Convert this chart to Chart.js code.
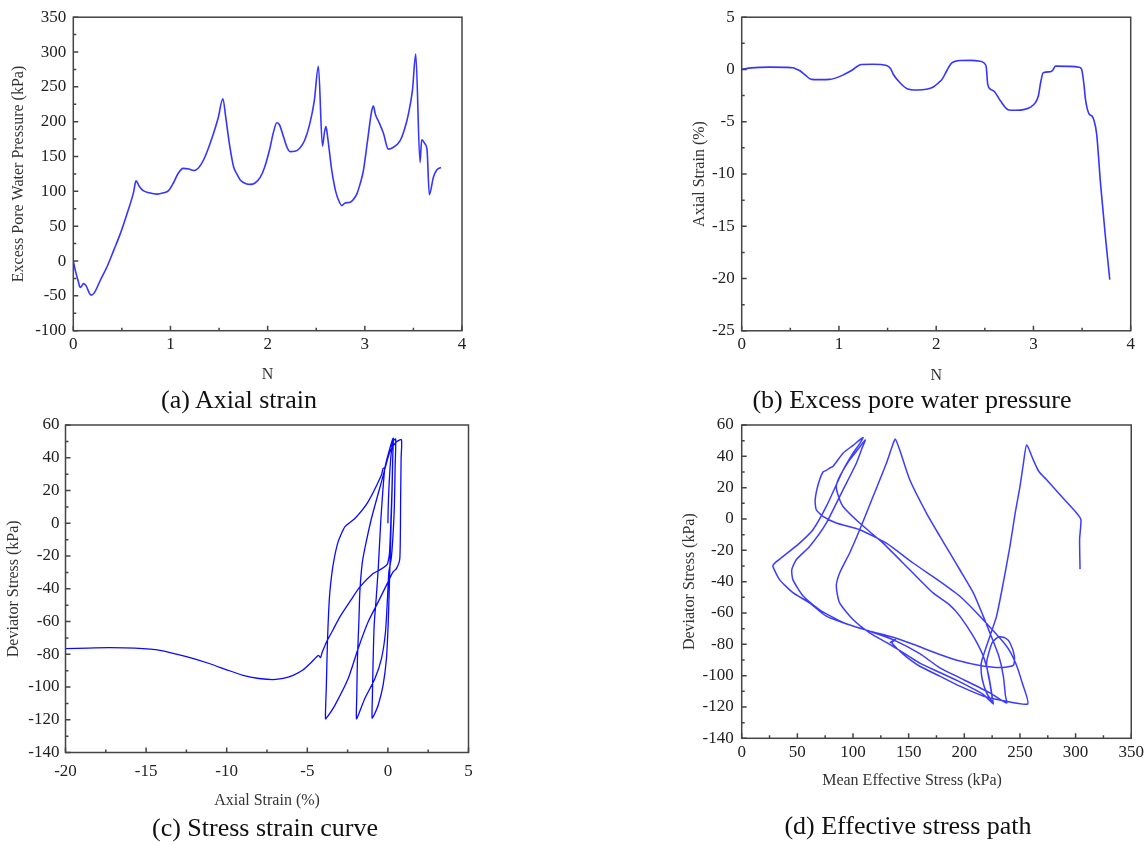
<!DOCTYPE html>
<html><head><meta charset="utf-8">
<script src="https://cdn.jsdelivr.net/npm/chart.js@4"></script>
<style>
html,body{margin:0;padding:0;background:#fff;}
#wrap{position:relative;width:1148px;height:845px;overflow:hidden;background:#fff;}
canvas{position:absolute;left:0;top:0;}
.cap{position:absolute;font-family:"Liberation Serif","Times New Roman",serif;font-size:26px;color:#111;white-space:nowrap;transform:translate(-50%,-50%);}
.atl{position:absolute;font-family:"Liberation Serif","Times New Roman",serif;font-size:16px;color:#333;white-space:nowrap;transform:translate(-50%,-50%);line-height:19px;}
</style></head><body>
<div id="wrap">
<canvas id="ca" width="1148" height="845" style="width:1148px;height:845px"></canvas>
<canvas id="cb" width="1148" height="845" style="width:1148px;height:845px"></canvas>
<canvas id="cc" width="1148" height="845" style="width:1148px;height:845px"></canvas>
<canvas id="cd" width="1148" height="845" style="width:1148px;height:845px"></canvas>
<div class="atl" style="left:912px;top:779px">Mean Effective Stress (kPa)</div>
<div class="cap" style="left:239px;top:400px">(a) Axial strain</div>
<div class="cap" style="left:912px;top:400px">(b) Excess pore water pressure</div>
<div class="cap" style="left:265px;top:828px">(c) Stress strain curve</div>
<div class="cap" style="left:908px;top:826px">(d) Effective stress path</div>
</div>
<script>
// ---- (a) Excess pore water pressure vs N ----
const aN = [0, 0.02, 0.048, 0.072, 0.106, 0.134, 0.158, 0.182, 0.216, 0.278, 0.346, 0.415, 0.483, 0.552, 0.62, 0.645, 0.68, 0.72, 0.78, 0.86, 0.93, 0.98, 1.03, 1.08, 1.13, 1.19, 1.24, 1.29, 1.34, 1.39, 1.44, 1.49, 1.539, 1.57, 1.61, 1.65, 1.683, 1.72, 1.786, 1.82, 1.87, 1.923, 1.97, 2.02, 2.06, 2.094, 2.12, 2.16, 2.2, 2.231, 2.28, 2.33, 2.38, 2.43, 2.48, 2.522, 2.564, 2.585, 2.60, 2.62, 2.66, 2.70, 2.74, 2.763, 2.797, 2.848, 2.88, 2.917, 2.95, 2.985, 3.03, 3.07, 3.088, 3.11, 3.14, 3.19, 3.242, 3.29, 3.36, 3.41, 3.448, 3.49, 3.524, 3.568, 3.585, 3.62, 3.64, 3.664, 3.705, 3.74, 3.784];
const aU = [0, -13, -27.6, -38, -32.4, -36, -44, -49, -45.7, -27.6, -8.6, 15, 39, 67.6, 98.6, 115, 107, 101, 98, 96, 98, 101, 112, 126, 133, 132, 130, 134, 145, 162, 182, 205, 233, 205, 165, 135, 125, 116, 110.6, 110, 112, 120, 135, 160, 185, 198.6, 196, 180, 163, 157, 157.5, 162, 173, 195, 230, 279.6, 165, 185, 193, 175, 130, 100, 84, 79.6, 83.4, 84.3, 88, 96, 110, 129.6, 175, 215, 222.4, 210, 201, 184, 160.6, 163, 172, 190, 210.6, 245, 297, 141.4, 174, 168, 160, 95.3, 120, 130.6, 134.3];

// ---- (b) Axial strain vs N ----
const bN = [0, 0.1, 0.285, 0.45, 0.526, 0.56, 0.595, 0.65, 0.716, 0.8, 0.905, 1.04, 1.13, 1.23, 1.35, 1.49, 1.53, 1.56, 1.63, 1.70, 1.80, 1.90, 1.97, 2.02, 2.06, 2.11, 2.16, 2.25, 2.35, 2.45, 2.48, 2.50, 2.515, 2.53, 2.56, 2.60, 2.66, 2.745, 2.82, 2.9, 2.97, 3.02, 3.05, 3.075, 3.10, 3.175, 3.2, 3.226, 3.35, 3.467, 3.49, 3.50, 3.52, 3.535, 3.57, 3.60, 3.62, 3.65, 3.69, 3.74, 3.785];
const bS = [0, 0.15, 0.22, 0.2, 0.16, 0.05, -0.1, -0.5, -0.95, -0.97, -0.95, -0.54, -0.1, 0.48, 0.5, 0.38, 0.1, -0.48, -1.3, -1.84, -1.97, -1.9, -1.68, -1.3, -0.95, -0.1, 0.63, 0.86, 0.87, 0.79, 0.7, 0.54, 0.2, -1.43, -1.9, -2.13, -3.0, -3.87, -3.9, -3.84, -3.6, -3.17, -2.54, -1.2, -0.32, -0.22, -0.05, 0.32, 0.3, 0.22, 0.1, -0.16, -1.5, -2.86, -4.22, -4.44, -4.8, -6.19, -10.95, -16.0, -20.1];

// ---- (c) Deviator stress vs axial strain ----
const cStrain = [0, 0.02, 0.08, 0.18, 0.28, 0.33,
  0.3, 0.26, 0.2, 0.14, 0.08, 0.014, -0.09, -0.3, -0.6, -0.85, -0.98,
  -0.96, -0.92, -0.85, -0.72, -0.6, -0.45, -0.35, -0.19, 0.1, 0.3, 0.48,
  0.45, 0.4, 0.3, 0.2, 0.06, -0.027, -0.15, -0.4, -0.81, -1.43, -1.75, -1.95,
  -1.93, -1.89, -1.8, -1.74, -1.6, -1.43, -1.02, -0.4, 0.12, 0.5, 0.84,
  0.82, 0.79, 0.74, 0.53, 0.32, 0.01, -0.6, -1.23, -1.85, -2.47, -3.29, -3.7, -3.87,
  -3.82, -3.75, -3.68, -3.6, -3.4, -3.09, -2.67, -2.05, -1.23, -0.4, -0.3, -0.19, 0.1, 0.33,
  0.3, 0.25, 0.18, 0.1, 0.0, -0.09, -0.5, -0.92, -1.74, -2.3, -2.98, -3.4, -3.81, -4.0, -4.1, -4.18, -4.3, -4.45, -4.84, -5.3, -5.88, -6.5, -7.12, -8.0, -8.98, -10, -11.04, -12.5, -14.14, -15.7, -17.24, -18.6, -20];
const cStress = [0, 10, 25, 40, 49, 52,
  40, 20, 0, -21.5, -42, -62.3, -82.7, -99, -111, -117, -119,
  -105, -85, -62, -45, -27.7, 0, 15, 33.5, 45, 50, 51.5,
  35, 10, -10, -22, -29.7, -46, -66.4, -82.7, -95, -107, -115, -119.4,
  -105, -82.7, -60, -41.9, -25, -15.4, 2.9, 25.3, 43.7, 49.5, 51,
  40, 15, -21.5, -27.7, -29.7, -35.8, -48, -60.3, -76.6, -95, -111.2, -117.5, -119.4,
  -100, -72.5, -55, -41.9, -25.6, -11.4, -2.2, 2.9, 13.1, 29.4, 33.5, 34, 45, 52,
  40, 20, 0, -18, -24, -25.6, -28.5, -30.7, -38.9, -47, -57.2, -65, -72.5, -77, -79.5, -82.1, -80.7, -81.8, -85.8, -89.8, -92.9, -94.8, -95.5, -94.8, -92.9, -89.5, -85.8, -81.5, -77.6, -76.3, -76.0, -76.2, -76.6];

// ---- (d) Deviator stress vs mean effective stress ----
const dP = [304, 303.6, 304.8, 301, 286, 274, 267, 262, 256,
  253, 250, 245.7, 241, 235, 229, 223, 216, 215, 216, 220, 226,
  217, 196, 178, 160, 150, 133, 115, 100, 88, 85, 88, 97, 106, 118, 130, 135, 138,
  142, 151, 166, 178, 187, 196, 208, 217, 223, 231, 235, 237, 238,
  223, 196, 178, 160, 136, 115, 91, 70, 55, 46, 45, 49, 61, 76, 91, 103, 108, 111,
  104, 97, 88, 85, 87, 91, 106, 127, 151, 172, 187, 196, 208, 217, 222, 225, 226,
  223, 220, 225, 231, 237, 241, 245, 244, 232, 214, 196, 178, 154, 136, 115, 100, 76, 61, 46, 34, 28, 30, 37, 52, 64, 76, 91, 100, 106, 109,
  100, 91, 82, 79, 76, 73, 69, 66, 67, 73, 85, 106, 130, 154, 178, 196, 214, 238, 246, 252, 257,
  235, 217, 196, 178, 160, 148, 140, 135, 138, 133];
const dQ = [-32, -13, -0.5, 3.7, 15.4, 25, 30.3, 37.7, 47.3,
  35, 20.7, 3.7, -17.5, -40.8, -62, -74.8, -89.7, -94, -102, -111, -118,
  -112, -104, -98, -92, -87.5, -80, -72.7, -64.2, -53.6, -43, -34.5, -21.7, -6.9, 14.3, 35.6, 46, 51,
  44, 25, 3.7, -11, -21.7, -32.4, -47, -62, -72.7, -87.5, -100, -113, -117.5,
  -111, -101.4, -95, -86, -77, -71.6, -66, -58, -49, -38.7, -32.4, -26, -17.5, -2.6, 18.6, 35.6, 45, 50.4,
  44, 37.7, 27, 20.7, 14.3, 8, -2.6, -15.4, -32.4, -47.2, -55, -62, -74.8, -87.5, -100.3, -113, -118,
  -105, -92, -79, -75.2, -76, -79, -87.5, -93.5, -94.8, -93.5, -90.7, -86.5, -80, -75.5, -71.6, -68.4, -62, -53.6, -47, -38.7, -30, -28, -24, -15.4, -6.9, 8, 31, 42, 48, 52,
  47, 42, 33.5, 32.5, 31, 30, 22.8, 12.2, 5.9, 1.6, -2.6, -6.9, -15.4, -28.1, -39.8, -49.3, -62.1, -81.2, -91.8, -104.5, -118,
  -116, -113, -106.7, -100.3, -94, -88, -83, -79, -77, -79];

const zip = (xs, ys) => xs.map((v, i) => ({x: v, y: ys[i]}));

const SERIF = '"Liberation Serif", "Times New Roman", serif';
const tickFont = {family: SERIF, size: 17};
const titleFont = {family: SERIF, size: 16};

const frameTicks = {
  id: 'frameTicks',
  afterDatasetsDraw(chart, args, o) {
    const {ctx, chartArea: a, scales: {x, y}} = chart;
    ctx.save();
    ctx.strokeStyle = '#444';
    ctx.lineWidth = 1.5;
    ctx.beginPath();
    const tx = (step, len) => {
      const n = Math.round((x.max - x.min) / step);
      for (let i = 0; i <= n; i++) {
        const px = x.getPixelForValue(x.min + i * step);
        ctx.moveTo(px, a.bottom); ctx.lineTo(px, a.bottom - len);
      }
    };
    const ty = (step, len) => {
      const n = Math.round((y.max - y.min) / step);
      for (let i = 0; i <= n; i++) {
        const py = y.getPixelForValue(y.min + i * step);
        ctx.moveTo(a.left, py); ctx.lineTo(a.left + len, py);
      }
    };
    tx(o.xMajor, 5); tx(o.xMajor / 2, 3);
    ty(o.yMajor, 5); ty(o.yMajor / 2, 3);
    ctx.stroke();
    ctx.strokeRect(a.left, a.top, a.right - a.left, a.bottom - a.top);
    ctx.restore();
  }
};

function makeChart(id, c) {
  return new Chart(document.getElementById(id), {
    type: 'scatter',
    data: {datasets: [{
      data: c.data, showLine: true, borderColor: c.color, borderWidth: c.width,
      pointRadius: 0, pointHoverRadius: 0, fill: false,
      tension: c.tension, cubicInterpolationMode: c.mono ? 'monotone' : 'default'
    }]},
    options: {
      responsive: false, animation: false, events: [],
      layout: {padding: {left: c.L - c.Wy, top: c.T, right: 1148 - c.R, bottom: 845 - c.B - c.Hx}},
      plugins: {legend: {display: false}, tooltip: {enabled: false},
        frameTicks: {xMajor: c.xs[2], yMajor: c.ys[2]}},
      scales: {
        x: {type: 'linear', min: c.xs[0], max: c.xs[1],
          ticks: {stepSize: c.xs[2], font: tickFont, color: '#222', padding: c.xTickPad, maxRotation: 0, autoSkip: false},
          grid: {display: false, drawTicks: false}, border: {display: false},
          title: {display: !!c.xTitle, text: c.xTitle || '', font: titleFont, color: '#333', padding: {top: 0, bottom: c.xTitlePad}},
          afterFit: s => { s.height = c.Hx; }},
        y: {type: 'linear', min: c.ys[0], max: c.ys[1],
          ticks: {stepSize: c.ys[2], font: tickFont, color: '#222', padding: c.yTickPad, autoSkip: false},
          grid: {display: false, drawTicks: false}, border: {display: false},
          title: {display: true, text: c.yTitle, font: titleFont, color: '#333', padding: {top: c.yTitlePad, bottom: 0}},
          afterFit: s => { s.width = c.Wy; }}
      }
    },
    plugins: [frameTicks]
  });
}

makeChart('ca', {data: zip(aN, aU), color: '#3535ff', width: 1.6, tension: 0, mono: true,
  L: 73.3, T: 15.7, R: 462, B: 330.7, Wy: 73.3, Hx: 60,
  xs: [0, 4, 1], ys: [-100, 350, 50], xTickPad: 4, yTickPad: 7,
  xTitle: 'N', yTitle: 'Excess Pore Water Pressure (kPa)', xTitlePad: 6, yTitlePad: 9});

makeChart('cb', {data: zip(bN, bS), color: '#3535ff', width: 1.6, tension: 0, mono: true,
  L: 741.7, T: 15.8, R: 1130.7, B: 330.8, Wy: 70, Hx: 60,
  xs: [0, 4, 1], ys: [-25, 5, 5], xTickPad: 4, yTickPad: 7,
  xTitle: 'N', yTitle: 'Axial Strain (%)', xTitlePad: 5, yTitlePad: 18.7});

makeChart('cc', {data: zip(cStrain, cStress), color: '#0a0aff', width: 1.3, tension: 0.2, mono: false,
  L: 65.5, T: 425, R: 468.5, B: 752.5, Wy: 65.5, Hx: 60,
  xs: [-20, 5, 5], ys: [-140, 60, 20], xTickPad: 8.5, yTickPad: 6,
  xTitle: 'Axial Strain (%)', yTitle: 'Deviator Stress (kPa)', xTitlePad: 2, yTitlePad: 4.4});

makeChart('cd', {data: zip(dP, dQ), color: '#3c3cff', width: 1.5, tension: 0.2, mono: false,
  L: 741.7, T: 425, R: 1132, B: 738.3, Wy: 70, Hx: 60,
  xs: [0, 350, 50], ys: [-140, 60, 20], xTickPad: 4, yTickPad: 8,
  xTitle: '', yTitle: 'Deviator Stress (kPa)', xTitlePad: 9.4, yTitlePad: 8.7});
</script>
</body></html>
